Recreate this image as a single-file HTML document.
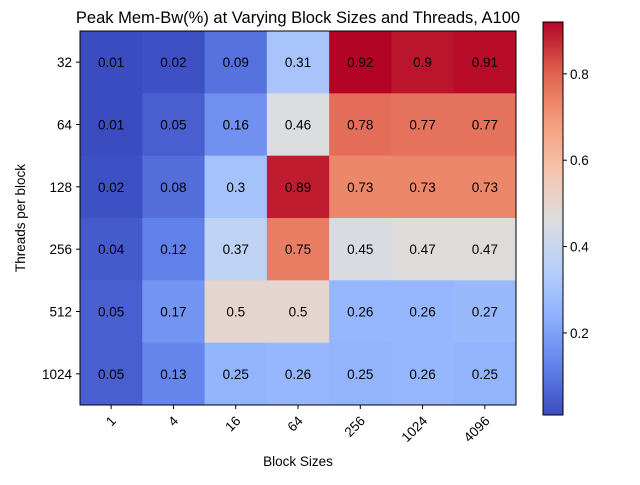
<!DOCTYPE html>
<html><head><meta charset="utf-8"><style>
body{margin:0;background:#fff;width:640px;height:480px;overflow:hidden}
text{font-family:"Liberation Sans","DejaVu Sans",sans-serif}
</style></head><body>
<svg id="chart" width="640" height="480" xmlns="http://www.w3.org/2000/svg">
<defs>
<linearGradient id="cw" x1="0" y1="1" x2="0" y2="0">
<stop offset="0" stop-color="rgb(59,76,192)"/><stop offset="0.125" stop-color="rgb(98,130,234)"/>
<stop offset="0.25" stop-color="rgb(141,176,254)"/><stop offset="0.375" stop-color="rgb(184,208,249)"/>
<stop offset="0.5" stop-color="rgb(221,221,221)"/><stop offset="0.625" stop-color="rgb(245,196,173)"/>
<stop offset="0.75" stop-color="rgb(244,154,123)"/><stop offset="0.875" stop-color="rgb(222,96,77)"/>
<stop offset="1" stop-color="rgb(180,4,38)"/>
</linearGradient>
</defs>
<text x="298" y="23" font-size="16.5" text-anchor="middle">Peak Mem-Bw(%) at Varying Block Sizes and Threads, A100</text>
<g id="cells"></g>
<rect x="80" y="31" width="436" height="374" fill="none" stroke="#000" stroke-width="1"/>
<g id="axes"></g>
<text x="298" y="466" font-size="13.5" text-anchor="middle">Block Sizes</text>
<text transform="translate(25,218) rotate(-90)" font-size="13.5" text-anchor="middle">Threads per block</text>
<rect x="543" y="22" width="20" height="393" fill="url(#cw)" stroke="#000" stroke-width="1"/>
<g id="cbar"></g>
</svg>
<script>
const blockSizes=["1","4","16","64","256","1024","4096"];
const threads=["32","64","128","256","512","1024"];
const row32=[0.01,0.02,0.09,0.31,0.92,0.9,0.91];
const row64=[0.01,0.05,0.16,0.46,0.78,0.77,0.77];
const row128=[0.02,0.08,0.3,0.89,0.73,0.73,0.73];
const row256=[0.04,0.12,0.37,0.75,0.45,0.47,0.47];
const row512=[0.05,0.17,0.5,0.5,0.26,0.26,0.27];
const row1024=[0.05,0.13,0.25,0.26,0.25,0.26,0.25];
const cbarTicks=[0.2,0.4,0.6,0.8];
const rows=[row32,row64,row128,row256,row512,row1024];
const vmin=0.01,vmax=0.92;
const stops=[[59,76,192],[98,130,234],[141,176,254],[184,208,249],[221,221,221],[245,196,173],[244,154,123],[222,96,77],[180,4,38]];
function cmap(v){let t=Math.max(0,Math.min(1,(v-vmin)/(vmax-vmin)))*8;let i=Math.min(7,Math.floor(t)),f=t-i;
const a=stops[i],b=stops[i+1];return `rgb(${a.map((c,k)=>Math.round(c+(b[k]-c)*f)).join(',')})`;}
const X0=80,Y0=31,W=436,H=374,cw=W/blockSizes.length,ch=H/threads.length;
const xs=i=>X0+i*cw, ys=j=>Y0+j*ch;
const NS="http://www.w3.org/2000/svg";
function mk(tag,attrs,parent){const e=document.createElementNS(NS,tag);for(const k in attrs)e.setAttribute(k,attrs[k]);parent.appendChild(e);return e;}
const cells=document.getElementById('cells'),axes=document.getElementById('axes'),cb=document.getElementById('cbar');
rows.forEach((r,j)=>r.forEach((v,i)=>{
 const rc=mk('rect',{x:xs(i),y:ys(j),width:cw+0.5,height:ch+0.5,fill:cmap(v)},cells);
 
 
 const t=mk('text',{x:xs(i)+cw/2,y:ys(j)+ch/2+5,'font-size':'13.5','text-anchor':'middle'},cells);
 t.textContent=String(v);
 
 
}));
blockSizes.forEach((b,i)=>{const cx=xs(i)+cw/2;
 mk('line',{x1:cx,x2:cx,y1:405,y2:409,stroke:'#000'},axes);
 const t=mk('text',{transform:`translate(${cx-1},${415}) rotate(-45)`,'font-size':'13.5','text-anchor':'end',dy:'0.7em'},axes);
 t.textContent=b;
 
 });
threads.forEach((s,j)=>{const cy=ys(j)+ch/2;
 mk('line',{x1:76,x2:80,y1:cy,y2:cy,stroke:'#000'},axes);
 const t=mk('text',{x:72,y:cy+5,'font-size':'13.5','text-anchor':'end'},axes);
 t.textContent=s;
 
 });
cbarTicks.forEach(v=>{const y=415-(v-vmin)/(vmax-vmin)*393;
 mk('line',{x1:563,x2:567,y1:y,y2:y,stroke:'#000'},cb);
 const t=mk('text',{x:570,y:y+5,'font-size':'13.5'},cb);
 t.textContent=v.toFixed(1);
 
 });
</script>
</body></html>
